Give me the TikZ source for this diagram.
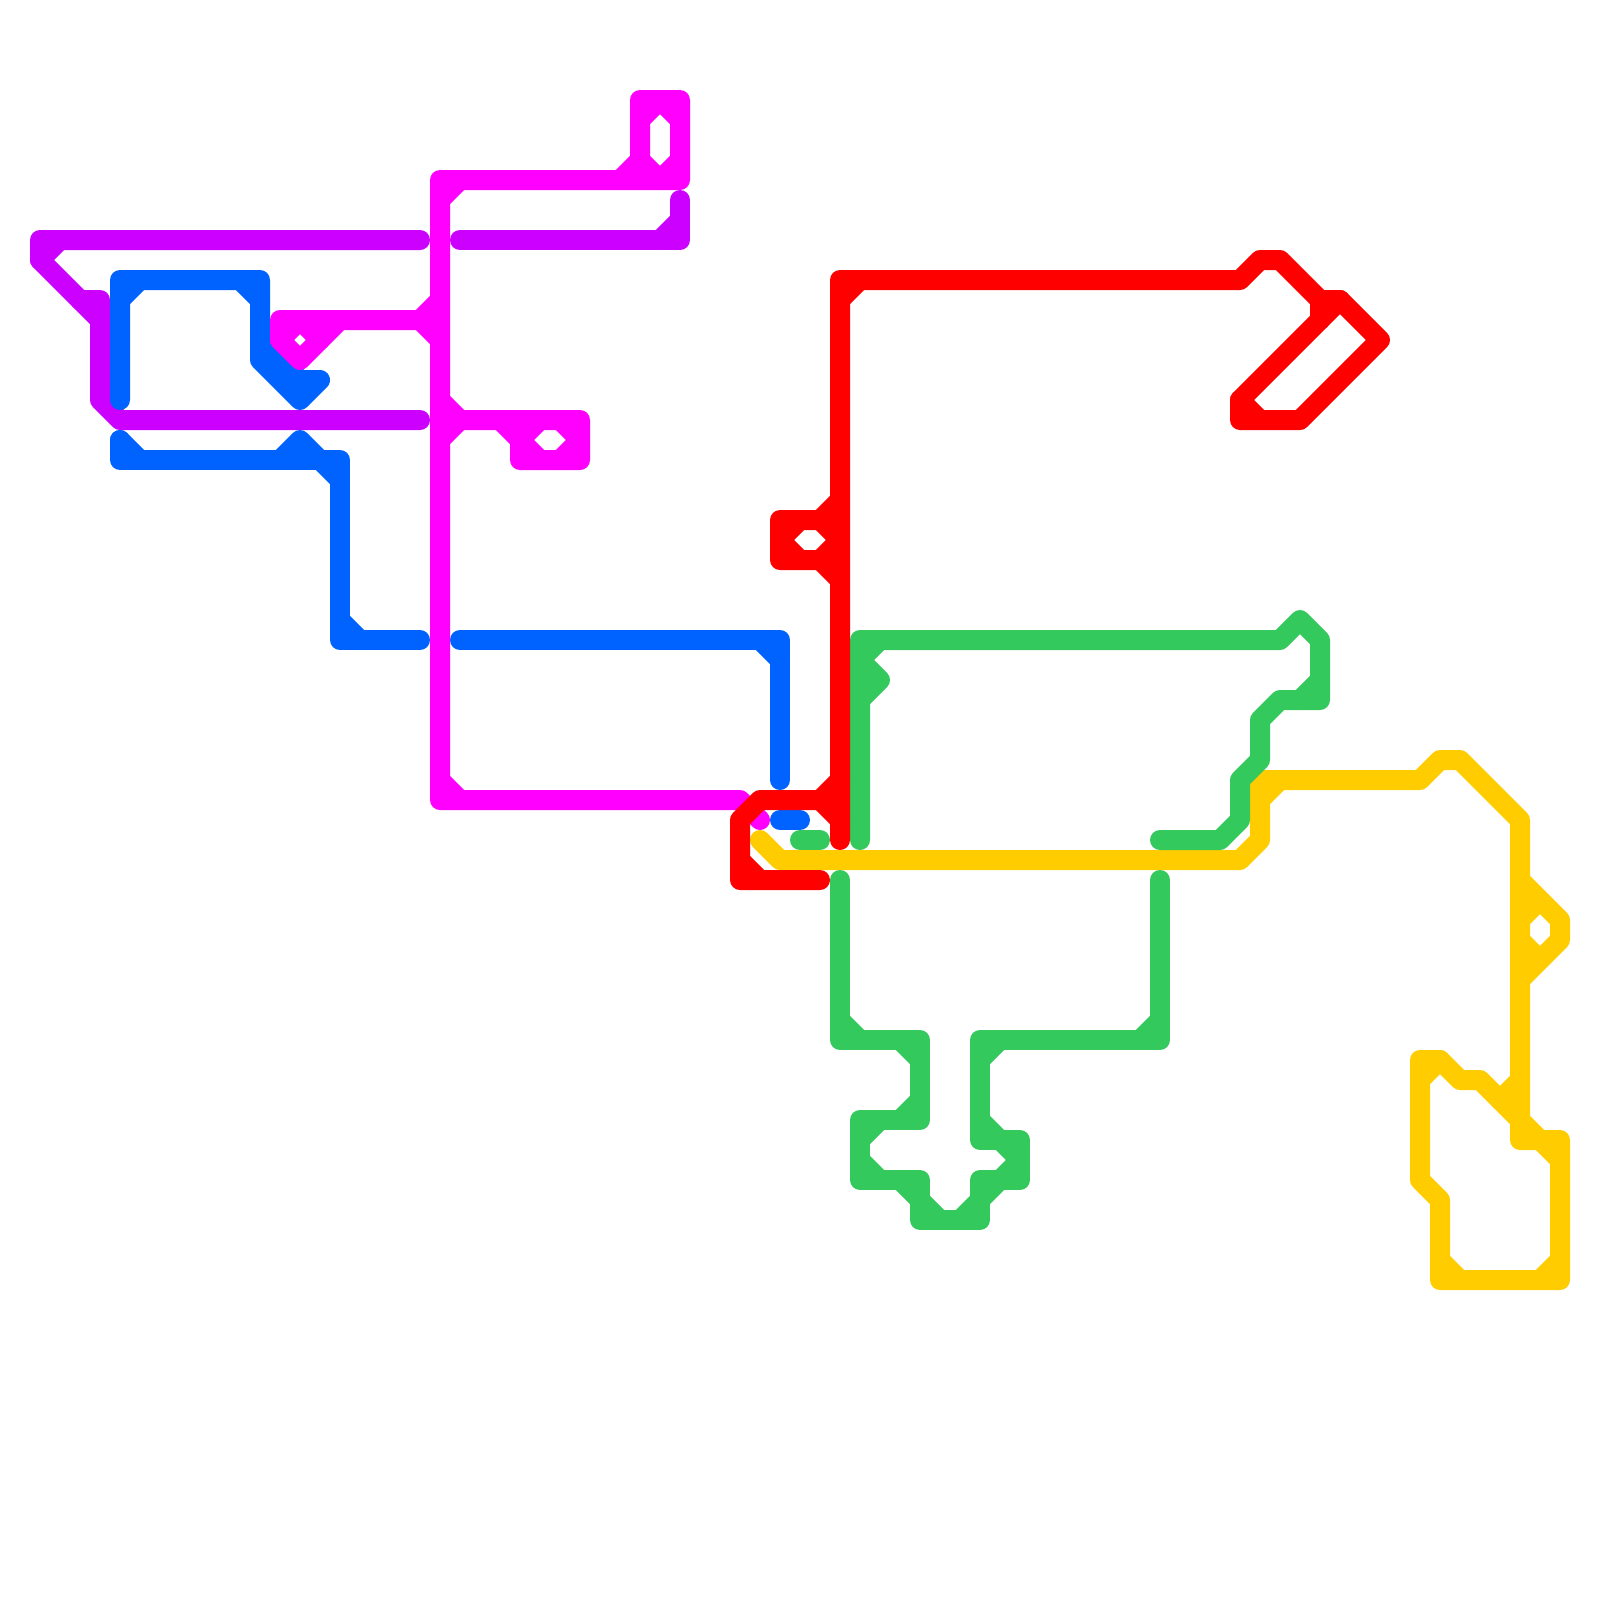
\documentclass[tikz,border=0pt]{standalone}
\usepackage{tikz}
\definecolor{metroyellow}{RGB}{255,204,0}
\definecolor{metrogreen}{RGB}{51,201,92}
\definecolor{metroblue}{RGB}{0,98,255}
\definecolor{metromagenta}{RGB}{255,0,255}
\definecolor{metropurple}{RGB}{204,0,255}
\definecolor{metrored}{RGB}{255,0,0}
\tikzset{metroline/.style={line width=0.2cm,line cap=round,line join=round}}

\begin{document}
\begin{tikzpicture}[x=0.2cm,y=-0.2cm]
 \useasboundingbox (0,0) rectangle (80,80);
 % yellow line
 \draw[metroline,metroyellow] (38,42)--(39,43)--(62,43)--(63,42)--(63,39)--(71,39)--(72,38)--(73,38)--(76,41)
   --(76,57)--(78,57)--(78,64)--(72,64)--(72,60)--(71,59)--(71,53)--(72,53)--(73,54)--(74,54)--(77,57);
 \draw[metroline,metroyellow] (63,40)--(64,39) (76,44)--(78,46)--(78,47)--(76,49) (76,46)--(77,45) (76,47)--(77,48)
   (75,55)--(76,54) (77,57)--(78,58) (72,63)--(73,64) (77,64)--(78,63) (71,54)--(72,53);
 % green lines
 \draw[metroline,metrogreen] (43,42)--(43,32)--(64,32)--(65,31)--(66,32)--(66,35)--(64,35)--(63,36)--(63,38)--(62,39)
   --(62,41)--(61,42)--(58,42);
 \draw[metroline,metrogreen] (43,33)--(44,32) (43,33)--(44,34)--(43,35) (65,35)--(66,34);
 \draw[metroline,metrogreen] (40,42)--(41,42);
 \draw[metroline,metrogreen] (42,44)--(42,52)--(46,52)--(46,56)--(43,56)--(43,59)--(46,59)--(46,61)--(49,61)--(49,59)
   --(51,59)--(51,57)--(49,57)--(49,52)--(58,52)--(58,44);
 \draw[metroline,metrogreen] (42,51)--(43,52) (45,52)--(46,53) (46,55)--(45,56) (43,57)--(44,56) (43,58)--(44,59)
   (45,59)--(46,60)--(47,61) (48,61)--(49,60)--(51,58)--(50,57)--(49,56) (49,53)--(50,52) (57,52)--(58,51);
 % purple lines
 \draw[metroline,metropurple] (21,12)--(2,12)--(2,13)--(5,16)--(5,20)--(6,21)--(21,21);
 \draw[metroline,metropurple] (2,13)--(3,12) (4,15)--(5,15)--(5,16);
 \draw[metroline,metropurple] (23,12)--(34,12)--(34,10);
 \draw[metroline,metropurple] (33,12)--(34,11);
 % blue lines
 \draw[metroline,metroblue] (6,20)--(6,14)--(13,14)--(13,18)--(15,20)--(16,19)--(15,19)--(13,17);
 \draw[metroline,metroblue] (6,15)--(7,14) (12,14)--(13,15);
 \draw[metroline,metroblue] (6,22)--(6,23)--(17,23)--(17,32)--(21,32);
 \draw[metroline,metroblue] (6,22)--(7,23) (14,23)--(15,22)--(16,23)--(17,24) (17,31)--(18,32);
 \draw[metroline,metroblue] (23,32)--(39,32)--(39,39);
 \draw[metroline,metroblue] (38,32)--(39,33);
 \draw[metroline,metroblue] (39,41)--(40,41);
 % magenta line
 \draw[metroline,metromagenta] (38,41)--(37,40)--(22,40)--(22,9)--(34,9)--(34,5)--(32,5)--(32,8)--(31,9);
 \draw[metroline,metromagenta] (22,10)--(23,9) (32,6)--(33,5)--(34,6) (32,8)--(33,9)--(34,8) (22,39)--(23,40);
 \draw[metroline,metromagenta] (22,16)--(14,16)--(14,17)--(15,18)--(17,16);
 \draw[metroline,metromagenta] (21,16)--(22,15) (21,16)--(22,17) (14,17)--(15,16)--(16,17);
 \draw[metroline,metromagenta] (22,21)--(29,21)--(29,23)--(26,23)--(26,22)--(25,21);
 \draw[metroline,metromagenta] (22,20)--(23,21)--(22,22) (28,21)--(29,22)--(28,23) (27,21)--(26,22)--(27,23);
 % red lines
 \draw[metroline,metrored] (42,42)--(42,14)--(62,14)--(63,13)--(64,13)--(66,15)--(67,15)--(69,17)--(65,21)--(62,21)
   --(62,20)--(66,16)--(66,15);
 \draw[metroline,metrored] (42,15)--(43,14) (66,16)--(67,15) (62,20)--(63,21);
 \draw[metroline,metrored] (42,25)--(41,26)--(39,26)--(39,28)--(41,28)--(42,29);
 \draw[metroline,metrored] (42,27)--(41,26) (42,27)--(41,28) (39,27)--(40,26) (39,27)--(40,28);
 \draw[metroline,metrored] (42,39)--(41,40)--(38,40)--(37,41)--(37,44)--(41,44);
 \draw[metroline,metrored] (41,40)--(42,41) (37,43)--(38,44);
\end{tikzpicture}
\end{document}
